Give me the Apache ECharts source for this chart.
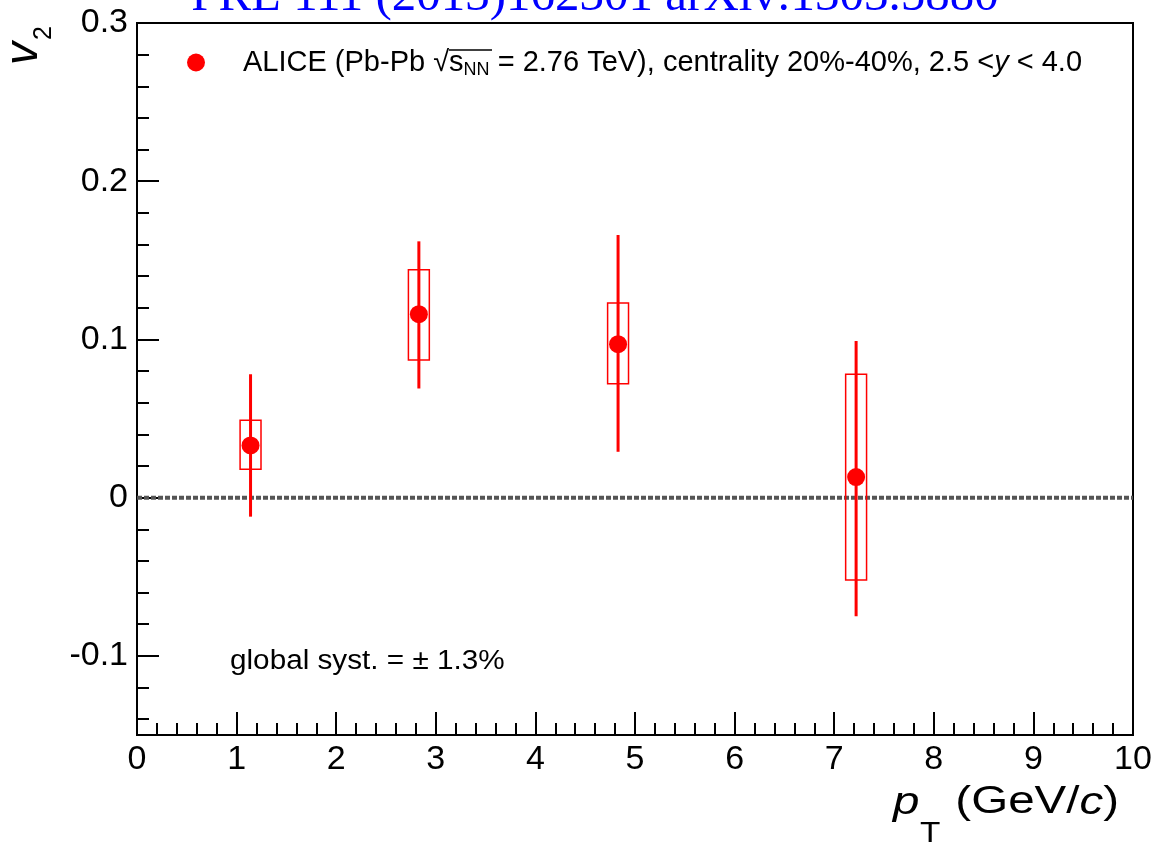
<!DOCTYPE html>
<html>
<head>
<meta charset="utf-8">
<script src="https://cdn.jsdelivr.net/npm/echarts@6/dist/echarts.min.js"></script>
<style>
  html, body { margin: 0; padding: 0; background: #fff; }
  #main { width: 1155px; height: 842px; }
</style>
</head>
<body>
<div id="main"></div>
<script>
// J/psi v2 vs pT, ALICE Pb-Pb 20-40%
var pt = [1.14, 2.83, 4.83, 7.22]
var v2 = [0.033, 0.116, 0.097, 0.013]
// statistical error bar ends
var statLow = [-0.012, 0.069, 0.029, -0.075]
var statHigh = [0.078, 0.162, 0.166, 0.099]
// systematic boxes
var sysLow = [0.018, 0.087, 0.072, -0.052]
var sysHigh = [0.049, 0.144, 0.123, 0.078]
var boxHalf = 0.105

var xTicks = [0, 1, 2, 3, 4, 5, 6, 7, 8, 9, 10]
var yMajor = [-0.1, 0, 0.1, 0.2, 0.3]
var yMinor = []
for (var k = -7; k <= 15; k++) {
  if (k % 5 !== 0) yMinor.push(+(k * 0.02).toFixed(2))
}
var zeroLine = [[0, 0], [10, 0]]

var FONT = 'Liberation Sans'
var WIDE = 1.25 // reference text is drawn a bit stretched

var chart = echarts.init(document.getElementById('main'))

function renderPoint(params, api) {
  var x = api.value(0)
  var c = api.coord([x, api.value(1)])
  var sLo = api.coord([x, api.value(2)])
  var sHi = api.coord([x, api.value(3)])
  var bLo = api.coord([x, api.value(4)])
  var bHi = api.coord([x, api.value(5)])
  var bl = api.coord([x - boxHalf, 0])[0]
  var br = api.coord([x + boxHalf, 0])[0]
  return {
    type: 'group',
    children: [
      {
        type: 'rect',
        shape: { x: bl, y: bHi[1], width: br - bl, height: bLo[1] - bHi[1] },
        style: { fill: 'none', stroke: '#ff0000', lineWidth: 1.5 },
      },
      {
        type: 'line',
        shape: { x1: c[0], y1: sLo[1], x2: c[0], y2: sHi[1] },
        style: { stroke: '#ff0000', lineWidth: 3 },
      },
      {
        type: 'circle',
        shape: { cx: c[0], cy: c[1], r: 9 },
        style: { fill: '#ff0000' },
      },
    ],
  }
}

chart.setOption({
  animation: false,
  backgroundColor: '#fff',
  grid: {
    left: 137,
    right: 22,
    top: 23,
    bottom: 107,
    show: true,
    borderColor: '#000',
    borderWidth: 2,
  },
  legend: {
    left: 187,
    top: 48,
    padding: 0,
    itemWidth: 18,
    itemHeight: 18,
    icon: 'circle',
    data: ['ALICE'],
    formatter: function () {
      return '{t|ALICE (Pb-Pb \u221A}{t|s}{sub|NN}{t| = 2.76 TeV), centrality 20%-40%, 2.5 <}{i|y}{t| < 4.0}'
    },
    textStyle: {
      padding: [0, 0, 0, 33],
      rich: {
        t: { fontFamily: FONT, fontSize: 29, color: '#000' },
        i: { fontFamily: FONT, fontSize: 29, fontStyle: 'italic', color: '#000' },
        sub: { fontFamily: FONT, fontSize: 18, color: '#000', padding: [16, 0, 0, 0] },
      },
    },
  },
  xAxis: {
    type: 'value',
    min: 0,
    max: 10,
    interval: 1,
    axisLine: { onZero: false, lineStyle: { color: '#000', width: 2 } },
    axisTick: { inside: true, length: 23, lineStyle: { color: '#000', width: 2 } },
    minorTick: { show: true, splitNumber: 5, length: 12, lineStyle: { color: '#000', width: 2 } },
    splitLine: { show: false },
    axisLabel: {
      margin: 8,
      fontFamily: FONT,
      fontSize: 34,
      color: '#000',
      customValues: xTicks,
    },
  },
  yAxis: [
    {
      type: 'value',
      min: -0.15,
      max: 0.3,
      axisLine: { show: true, onZero: false, lineStyle: { color: '#000', width: 2 } },
      axisTick: { inside: true, length: 22, customValues: yMajor, lineStyle: { color: '#000', width: 2 } },
      splitLine: { show: false },
      axisLabel: {
        margin: 9,
        fontFamily: FONT,
        fontSize: 34,
        color: '#000',
        customValues: yMajor,
        formatter: function (v) {
          return Math.abs(v) < 1e-9 ? '0' : v.toFixed(1)
        },
      },
    },
    {
      type: 'value',
      min: -0.15,
      max: 0.3,
      position: 'left',
      axisLine: { show: false },
      axisTick: { show: true, inside: true, length: 12, customValues: yMinor, lineStyle: { color: '#000', width: 2 } },
      axisLabel: { show: false },
      splitLine: { show: false },
    },
  ],
  graphic: [
    {
      type: 'text',
      x: 595,
      y: -27,
      style: {
        text: 'PRL 111 (2013)162301 arXiv:1303.5880',
        fontFamily: 'Liberation Serif',
        fontSize: 49,
        fill: '#0000ff',
        align: 'center',
      },
    },
    // overline of the square root in the legend
    {
      type: 'line',
      shape: { x1: 449, y1: 50, x2: 492, y2: 50 },
      style: { stroke: '#000', lineWidth: 1.5 },
    },
    {
      type: 'text',
      x: 230,
      y: 662,
      scaleX: 1.1,
      style: {
        text: 'global syst. = \u00B1 1.3%',
        fontFamily: FONT,
        fontSize: 27,
        fill: '#000',
        verticalAlign: 'middle',
      },
    },
    {
      type: 'text',
      x: 47,
      y: 65,
      rotation: Math.PI / 2,
      style: {
        text: 'v',
        fontFamily: FONT,
        fontSize: 46,
        fontStyle: 'italic',
        fill: '#000',
        align: 'left',
        verticalAlign: 'bottom',
      },
    },
    {
      type: 'text',
      x: 57,
      y: 40,
      rotation: Math.PI / 2,
      style: {
        text: '2',
        fontFamily: FONT,
        fontSize: 25,
        fill: '#000',
        align: 'left',
        verticalAlign: 'bottom',
      },
    },
    // x axis title: p_T (GeV/c)
    {
      type: 'text',
      x: 1119,
      y: 803,
      scaleX: WIDE,
      style: {
        text: '{t|(GeV/}{i|c}{t|)}',
        align: 'right',
        verticalAlign: 'middle',
        rich: {
          t: { fontFamily: FONT, fontSize: 38, color: '#000' },
          i: { fontFamily: FONT, fontSize: 38, fontStyle: 'italic', color: '#000' },
        },
      },
    },
    {
      type: 'text',
      x: 893,
      y: 803,
      scaleX: WIDE,
      style: {
        text: 'p',
        fontFamily: FONT,
        fontSize: 38,
        fontStyle: 'italic',
        fill: '#000',
        verticalAlign: 'middle',
      },
    },
    {
      type: 'text',
      x: 920,
      y: 819,
      scaleX: 1.15,
      style: {
        text: 'T',
        fontFamily: FONT,
        fontSize: 29,
        fill: '#000',
        verticalAlign: 'top',
      },
    },
  ],
  series: [
    {
      type: 'line',
      data: zeroLine,
      symbol: 'none',
      z: 1,
      silent: true,
      lineStyle: { color: '#555', width: 4, type: [5, 2] },
    },
    {
      name: 'ALICE',
      type: 'custom',
      z: 3,
      itemStyle: { color: '#ff0000' },
      renderItem: renderPoint,
      encode: { x: 0, y: [1, 2, 3, 4, 5] },
      data: pt.map(function (p, i) {
        return [p, v2[i], statLow[i], statHigh[i], sysLow[i], sysHigh[i]]
      }),
    },
  ],
})
</script>
</body>
</html>
